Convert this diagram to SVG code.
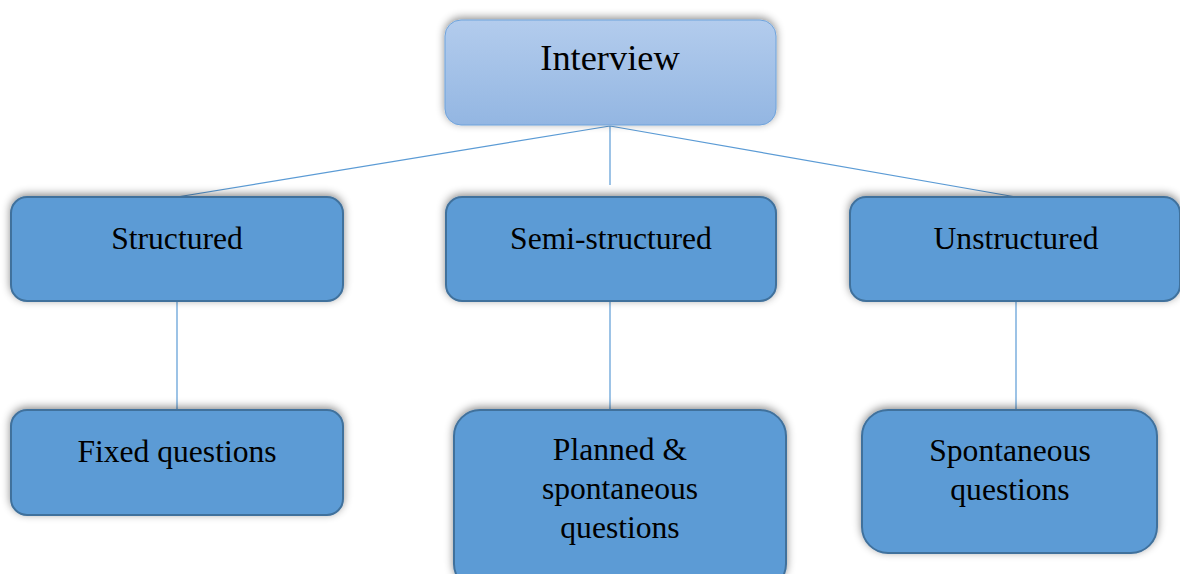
<svg xmlns="http://www.w3.org/2000/svg" width="1180" height="574" viewBox="0 0 1180 574">
  <defs>
    <linearGradient id="topFill" x1="0" y1="0" x2="0" y2="1">
      <stop offset="0" stop-color="#b3cced"/>
      <stop offset="1" stop-color="#93b6e2"/>
    </linearGradient>
    <filter id="shadow" x="-10%" y="-20%" width="120%" height="140%">
      <feDropShadow dx="0" dy="-2" stdDeviation="4" flood-color="#000" flood-opacity="0.45"/>
    </filter>
    <style>
      .box { fill: #5b9bd5; stroke: #41719c; stroke-width: 2; filter: url(#shadow); }
      .root { fill: url(#topFill); stroke: #6fa3db; stroke-width: 1; filter: url(#shadow); }
      .link { stroke: #5b9bd5; stroke-width: 1.2; fill: none; }
      text { font-family: "Liberation Serif", "Times New Roman", serif; fill: #000; text-anchor: middle; font-size: 31.6px; }
      .big { font-size: 36.4px; }
    </style>
  </defs>

  <g id="connectors">
    <line class="link" x1="610" y1="126" x2="177" y2="197"/>
    <line class="link" x1="610" y1="126" x2="610" y2="185"/>
    <line class="link" x1="610" y1="126" x2="1016" y2="197"/>
    <line class="link" x1="177" y1="301" x2="177" y2="410"/>
    <line class="link" x1="610" y1="301" x2="610" y2="410"/>
    <line class="link" x1="1016" y1="301" x2="1016" y2="410"/>
  </g>

  <g id="interview">
    <rect class="root" x="445" y="20" width="331" height="105" rx="16"/>
    <text class="big" x="610" y="70">Interview</text>
  </g>

  <g id="structured">
    <rect class="box" x="11" y="197" width="332" height="104" rx="16"/>
    <text x="177" y="249">Structured</text>
  </g>

  <g id="semi-structured">
    <rect class="box" x="446" y="197" width="330" height="104" rx="16"/>
    <text x="611" y="249">Semi-structured</text>
  </g>

  <g id="unstructured">
    <rect class="box" x="850" y="197" width="330" height="104" rx="16"/>
    <text x="1016" y="249">Unstructured</text>
  </g>

  <g id="fixed-questions">
    <rect class="box" x="11" y="410" width="332" height="105" rx="16"/>
    <text x="177" y="462">Fixed questions</text>
  </g>

  <g id="planned-spontaneous">
    <rect class="box" x="454" y="410" width="332" height="180" rx="26"/>
    <text x="620" y="460">Planned &amp;</text>
    <text x="620" y="499">spontaneous</text>
    <text x="620" y="538">questions</text>
  </g>

  <g id="spontaneous-questions">
    <rect class="box" x="862" y="410" width="295" height="143" rx="26"/>
    <text x="1010" y="461">Spontaneous</text>
    <text x="1010" y="500">questions</text>
  </g>
</svg>
